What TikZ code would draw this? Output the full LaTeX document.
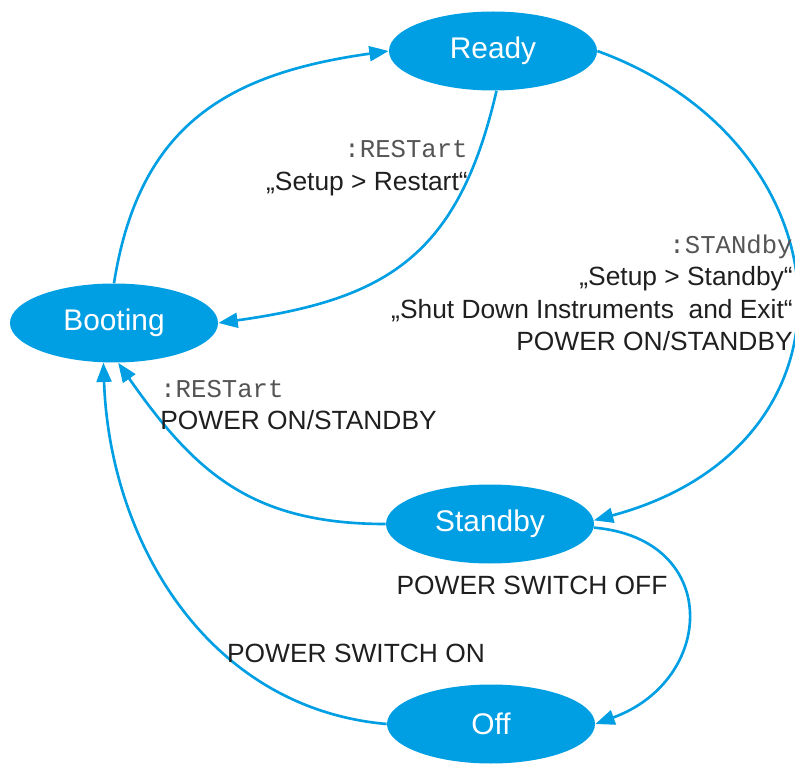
\documentclass[tikz,border=0pt]{standalone}
\usepackage{fontspec}
\setmainfont{Liberation Sans}
\setmonofont{Liberation Mono}
\usetikzlibrary{arrows.meta, shapes.geometric}

\definecolor{stateblue}{RGB}{0,158,227}
\definecolor{cmdgray}{RGB}{85,85,85}
\newcommand{\scpicmd}[1]{{\ttfamily\fontsize{14.6}{18.5}\selectfont\color{cmdgray}#1}}

\tikzset{
  state/.style={ellipse, fill=stateblue, text=white, minimum width=4.16cm,
    minimum height=1.58cm, inner sep=0pt, font=\fontsize{17}{20}\selectfont},
  trans/.style={draw=stateblue, line width=1.5pt, -{Triangle[length=11pt, width=8.5pt]}},
  lbl/.style={font=\fontsize{15}{18.5}\selectfont, text=black!88, inner sep=0pt},
}

\begin{document}
\begin{tikzpicture}
\useasboundingbox (0,0) rectangle (15.9,15.26);
% states
\node[state] (ready) at (9.86,14.24) {Ready};
\node[state] (booting) at (2.28,8.80) {Booting};
\node[state] (standby) at (9.80,4.78) {Standby};
\node[state] (off) at (9.82,0.78) {Off};
% transitions
\draw[trans] (booting.north) to[out=81, in=188, looseness=1.15] (ready.west);
\draw[trans] (ready.-85) to[out=-103, in=8, looseness=1.2] (booting.east);
\draw[trans] (ready.east) .. controls +(-20:5.4) and +(15:5.8) .. (standby.2);
\draw[trans] (standby.west) to[out=180, in=-55, looseness=1.1] (booting.-84);
\draw[trans] (standby.-2) to[out=-5, in=20, looseness=1.67] (off.east);
\draw[trans] (off.west) to[out=175, in=-88] (booting.-105);
% labels
\node[lbl, anchor=east, align=right] (restartlbl) at (9.36,11.9)
  {\scpicmd{:RESTart}\\„Setup > Restart“};
\node[lbl, anchor=east, align=right] (standbylbl) at (15.86,9.4)
  {\scpicmd{:STANdby}\\„Setup > Standby“\\„Shut Down Instruments\ \ and Exit“\\POWER ON/STANDBY};
\node[lbl, anchor=west, align=left] (rebootlbl) at (3.2,7.16)
  {\scpicmd{:RESTart}\\POWER ON/STANDBY};
\node[lbl] (switchofflbl) at (10.64,3.56) {POWER SWITCH OFF};
\node[lbl] (switchonlbl) at (7.12,2.2) {POWER SWITCH ON};
\end{tikzpicture}
\end{document}
